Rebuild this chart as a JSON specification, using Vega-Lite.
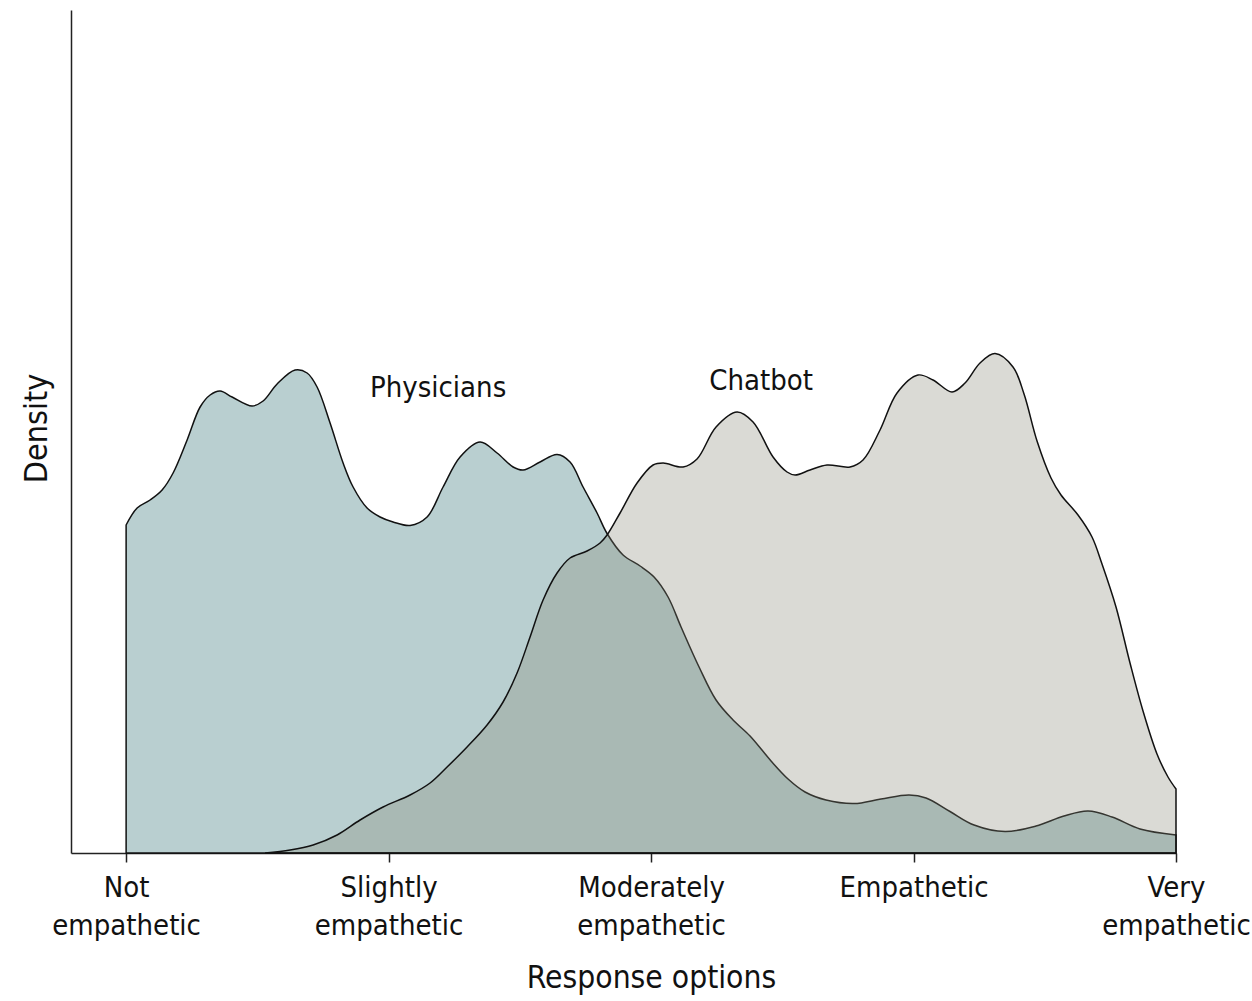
{
  "$schema": "https://vega.github.io/schema/vega-lite/v6.json",
  "autosize": {"type": "none"},
  "width": 1105,
  "height": 843,
  "padding": {"left": 71, "top": 10, "right": 76, "bottom": 148},
  "background": "white",
  "config": {
    "view": {"stroke": null},
    "font": "DejaVu Sans Condensed"
  },
  "datasets": {
    "phys": [
      {"x": 1.0, "y": 0.328}, {"x": 1.0419, "y": 0.345}, {"x": 1.0914, "y": 0.353}, {"x": 1.1371, "y": 0.363},
      {"x": 1.179, "y": 0.38}, {"x": 1.2324, "y": 0.413}, {"x": 1.2819, "y": 0.446}, {"x": 1.32, "y": 0.458},
      {"x": 1.3581, "y": 0.462}, {"x": 1.4038, "y": 0.456}, {"x": 1.48, "y": 0.447}, {"x": 1.5219, "y": 0.452},
      {"x": 1.5752, "y": 0.469}, {"x": 1.6438, "y": 0.483}, {"x": 1.6895, "y": 0.48}, {"x": 1.7276, "y": 0.466},
      {"x": 1.7771, "y": 0.43}, {"x": 1.8267, "y": 0.39}, {"x": 1.8648, "y": 0.366}, {"x": 1.9181, "y": 0.345},
      {"x": 1.9676, "y": 0.336}, {"x": 2.0171, "y": 0.331}, {"x": 2.0819, "y": 0.3275}, {"x": 2.1467, "y": 0.336},
      {"x": 2.2076, "y": 0.366}, {"x": 2.2724, "y": 0.396}, {"x": 2.3486, "y": 0.411}, {"x": 2.4133, "y": 0.4},
      {"x": 2.4743, "y": 0.386}, {"x": 2.5124, "y": 0.383}, {"x": 2.5771, "y": 0.391}, {"x": 2.6419, "y": 0.3985},
      {"x": 2.6914, "y": 0.391}, {"x": 2.741, "y": 0.366}, {"x": 2.7943, "y": 0.34}, {"x": 2.8324, "y": 0.3195},
      {"x": 2.8933, "y": 0.298}, {"x": 2.9581, "y": 0.287}, {"x": 3.0114, "y": 0.276}, {"x": 3.0648, "y": 0.256},
      {"x": 3.1143, "y": 0.226}, {"x": 3.1829, "y": 0.186}, {"x": 3.2476, "y": 0.153}, {"x": 3.3124, "y": 0.133},
      {"x": 3.3771, "y": 0.117}, {"x": 3.4571, "y": 0.092}, {"x": 3.5219, "y": 0.074}, {"x": 3.5867, "y": 0.061},
      {"x": 3.6667, "y": 0.053}, {"x": 3.7733, "y": 0.0495}, {"x": 3.8762, "y": 0.054}, {"x": 3.9829, "y": 0.058},
      {"x": 4.0476, "y": 0.055}, {"x": 4.139, "y": 0.0415}, {"x": 4.2305, "y": 0.028}, {"x": 4.3486, "y": 0.0215},
      {"x": 4.4667, "y": 0.027}, {"x": 4.5733, "y": 0.037}, {"x": 4.6648, "y": 0.042}, {"x": 4.7562, "y": 0.036},
      {"x": 4.8629, "y": 0.024}, {"x": 5.0, "y": 0.018}
    ],
    "chat": [
      {"x": 1.5295, "y": 0.0}, {"x": 1.6248, "y": 0.003}, {"x": 1.7124, "y": 0.008}, {"x": 1.8038, "y": 0.018},
      {"x": 1.8914, "y": 0.033}, {"x": 1.979, "y": 0.046}, {"x": 2.0819, "y": 0.058}, {"x": 2.1581, "y": 0.07},
      {"x": 2.2229, "y": 0.086}, {"x": 2.299, "y": 0.106}, {"x": 2.3752, "y": 0.128}, {"x": 2.4362, "y": 0.151},
      {"x": 2.4895, "y": 0.18}, {"x": 2.539, "y": 0.216}, {"x": 2.5886, "y": 0.253}, {"x": 2.6419, "y": 0.28},
      {"x": 2.6914, "y": 0.295}, {"x": 2.7562, "y": 0.302}, {"x": 2.8057, "y": 0.31}, {"x": 2.8324, "y": 0.318},
      {"x": 2.8819, "y": 0.34}, {"x": 2.9467, "y": 0.37}, {"x": 3.0076, "y": 0.388}, {"x": 3.0457, "y": 0.39},
      {"x": 3.1219, "y": 0.386}, {"x": 3.1752, "y": 0.394}, {"x": 3.2476, "y": 0.426}, {"x": 3.3276, "y": 0.441},
      {"x": 3.3886, "y": 0.431}, {"x": 3.4648, "y": 0.396}, {"x": 3.5181, "y": 0.381}, {"x": 3.5486, "y": 0.378},
      {"x": 3.6057, "y": 0.383}, {"x": 3.6705, "y": 0.388}, {"x": 3.7581, "y": 0.386}, {"x": 3.8076, "y": 0.393},
      {"x": 3.8724, "y": 0.423}, {"x": 3.9371, "y": 0.46}, {"x": 4.0171, "y": 0.478}, {"x": 4.0743, "y": 0.473},
      {"x": 4.1467, "y": 0.461}, {"x": 4.1962, "y": 0.47}, {"x": 4.2533, "y": 0.49}, {"x": 4.3105, "y": 0.4995},
      {"x": 4.379, "y": 0.486}, {"x": 4.421, "y": 0.459}, {"x": 4.4705, "y": 0.412}, {"x": 4.5238, "y": 0.375},
      {"x": 4.5619, "y": 0.358}, {"x": 4.6267, "y": 0.338}, {"x": 4.68, "y": 0.316}, {"x": 4.7181, "y": 0.289},
      {"x": 4.7714, "y": 0.246}, {"x": 4.8248, "y": 0.19}, {"x": 4.8743, "y": 0.142}, {"x": 4.9276, "y": 0.099},
      {"x": 4.9695, "y": 0.076}, {"x": 5.0, "y": 0.064}
    ],
    "labels": [
      {"x": 2.1886, "y": 0.465, "label": "Physicians"},
      {"x": 3.419, "y": 0.472, "label": "Chatbot"}
    ]
  },
  "encoding": {
    "x": {
      "field": "x",
      "type": "quantitative",
      "scale": {"domain": [0.79, 5], "nice": false, "zero": false},
      "axis": {
        "values": [1, 2, 3, 4, 5],
        "title": "Response options",
        "titleFontSize": 31.5,
        "titleFontWeight": "normal",
        "titleColor": "#111",
        "titlePadding": 22,
        "titleX": 580,
        "labelFontSize": 29,
        "labelColor": "#111",
        "labelLineHeight": 38,
        "labelPadding": 11,
        "labelOverlap": false,
        "labelFlush": false,
        "labelBound": false,
        "labelExpr": "datum.value == 1 ? ['Not', 'empathetic'] : datum.value == 2 ? ['Slightly', 'empathetic'] : datum.value == 3 ? ['Moderately', 'empathetic'] : datum.value == 4 ? 'Empathetic' : ['Very', 'empathetic']",
        "tickSize": 9,
        "tickColor": "#222",
        "tickWidth": 1.5,
        "domainColor": "#222",
        "domainWidth": 1.5,
        "grid": false
      }
    },
    "y": {
      "field": "y",
      "type": "quantitative",
      "scale": {"domain": [0, 0.843], "nice": false, "zero": true},
      "axis": {
        "title": "Density",
        "titleFontSize": 32,
        "titleFontWeight": "normal",
        "titleColor": "#111",
        "titlePadding": 18,
        "titleY": 418,
        "ticks": false,
        "labels": false,
        "grid": false,
        "domainColor": "#222",
        "domainWidth": 1.5
      }
    }
  },
  "layer": [
    {
      "data": {"name": "phys"},
      "mark": {"type": "area", "interpolate": "catmull-rom", "fill": "#b9cfd0", "stroke": "#111", "strokeWidth": 1.5}
    },
    {
      "data": {"name": "chat"},
      "mark": {"type": "area", "interpolate": "catmull-rom", "fill": "#868979", "fillOpacity": 0.31, "stroke": "#111", "strokeWidth": 1.5}
    },
    {
      "data": {"name": "labels"},
      "mark": {"type": "text", "fontSize": 29, "color": "#111", "font": "DejaVu Sans Condensed", "baseline": "middle", "align": "center"},
      "encoding": {"text": {"field": "label", "type": "nominal"}}
    }
  ]
}
